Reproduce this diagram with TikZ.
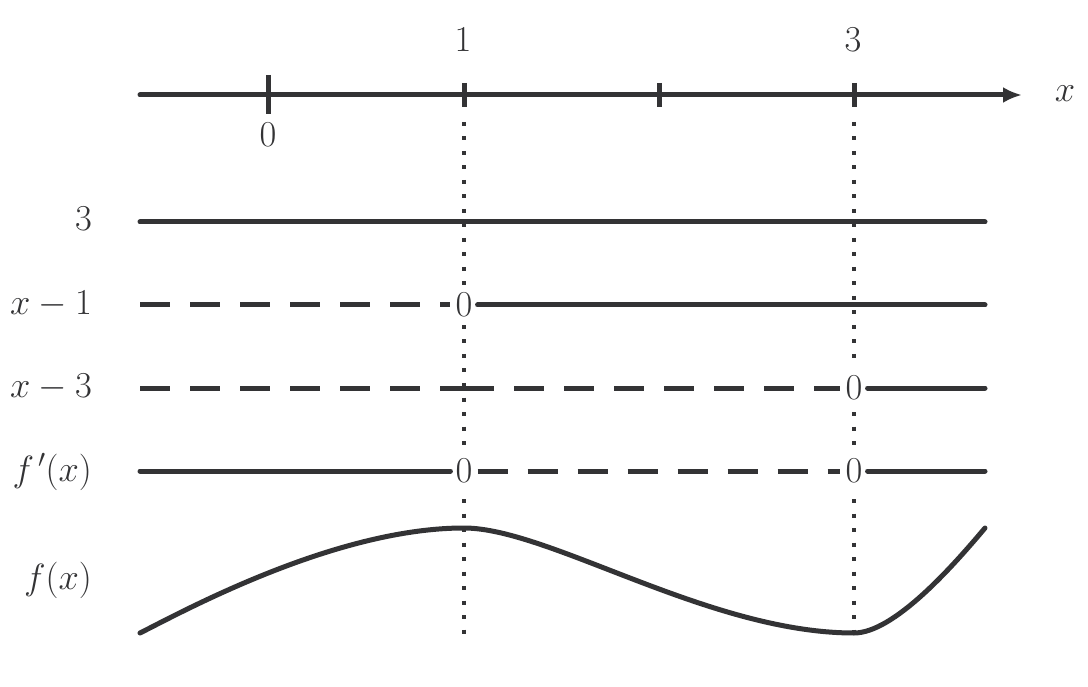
\RequirePackage{fix-cm}
\documentclass[tikz,border=0pt]{standalone}
\usetikzlibrary{arrows.meta}
\definecolor{ink}{RGB}{51,51,53}
\begin{document}
\begin{tikzpicture}[x=1pt,y=-1pt,
  every node/.style={font=\fontsize{36.5}{44}\selectfont, text=ink},
  lbl/.style={inner sep=0pt},
  zero/.style={fill=white, inner xsep=5pt, inner ysep=8pt},
  solidline/.style={draw=ink, line width=5pt, line cap=round},
  dashline/.style={draw=ink, line width=5pt, dash pattern=on 30pt off 20pt},
  dotline/.style={draw=ink, line width=4pt, dash pattern=on 4pt off 10.5pt},
  tickmark/.style={draw=ink, line width=5pt},
  axisline/.style={draw=ink, line width=5pt, line cap=round, -{Latex[length=19pt,width=16pt]}},
  curve/.style={draw=ink, line width=5pt, line cap=round, line join=round}
]
\useasboundingbox (0,0) rectangle (1088,687);

% axis
\coordinate (ax0) at (140,95);
\coordinate (ax1) at (1022,95);
\draw[axisline] (ax0) -- (ax1);
\coordinate (t0a) at (268,75);  \coordinate (t0b) at (268,114);
\coordinate (t1a) at (464,83);  \coordinate (t1b) at (464,107);
\coordinate (t2a) at (659,83);  \coordinate (t2b) at (659,107);
\coordinate (t3a) at (854,83);  \coordinate (t3b) at (854,107);
\draw[tickmark] (t0a) -- (t0b);
\draw[tickmark] (t1a) -- (t1b);
\draw[tickmark] (t2a) -- (t2b);
\draw[tickmark] (t3a) -- (t3b);
\node[lbl] (l1) at (463,39.5) {$1$};
\node[lbl] (l3) at (853,39.5) {$3$};
\node[lbl] (l0) at (268,134.5) {$0$};
\node[lbl] (lx) at (1065,93.5) {$x$};

% row labels
\node[lbl, anchor=east] (n1) at (92,219) {$3$};
\node[lbl, anchor=east] (n2) at (92,304) {$x-1$};
\node[lbl, anchor=east] (n3) at (92,387) {$x-3$};
\node[lbl, anchor=east] (n4) at (92,472) {$f\mkern2mu'(x)$};
\node[lbl, anchor=east] (n5) at (92,580) {$f(x)$};

% dotted verticals
\coordinate (d1t) at (464,122); \coordinate (d1b) at (464,638);
\coordinate (d2t) at (854,122); \coordinate (d2b) at (854,638);
\draw[dotline] (d1t) -- (d1b);
\draw[dotline] (d2t) -- (d2b);

% zeros
\node[zero] (z1) at (464,305) {$0$};
\node[zero] (z2) at (854,388) {$0$};
\node[zero] (z3) at (464,471) {$0$};
\node[zero] (z4) at (854,471) {$0$};

% row 3
\coordinate (r1a) at (140,222); \coordinate (r1b) at (985,222);
\draw[solidline] (r1a) -- (r1b);
% row x-1
\coordinate (r2a) at (140,305); \coordinate (r2b) at (985,305);
\draw[dashline] (r2a) -- (z1);
\draw[solidline] (z1) -- (r2b);
% row x-3
\coordinate (r3a) at (140,388); \coordinate (r3m) at (464,388); \coordinate (r3b) at (985,388);
\draw[dashline] (r3a) -- (r3m);
\draw[dashline] (r3m) -- (z2);
\draw[solidline] (z2) -- (r3b);
% row f'
\coordinate (r4a) at (140,471); \coordinate (r4b) at (985,471);
\draw[solidline] (r4a) -- (z3);
\draw[dashline] (z3) -- (z4);
\draw[solidline] (z4) -- (r4b);

% curve f
\coordinate (c0) at (140,633);
\coordinate (c1) at (464,528);
\coordinate (c2) at (854,633);
\coordinate (c3) at (985,528);
\draw[curve] (c0) .. controls (180,613) and (334,528) .. (c1)
                  .. controls (549,528) and (709,633) .. (c2)
                  .. controls (894,633) and (953,566) .. (c3);
\end{tikzpicture}
\end{document}
